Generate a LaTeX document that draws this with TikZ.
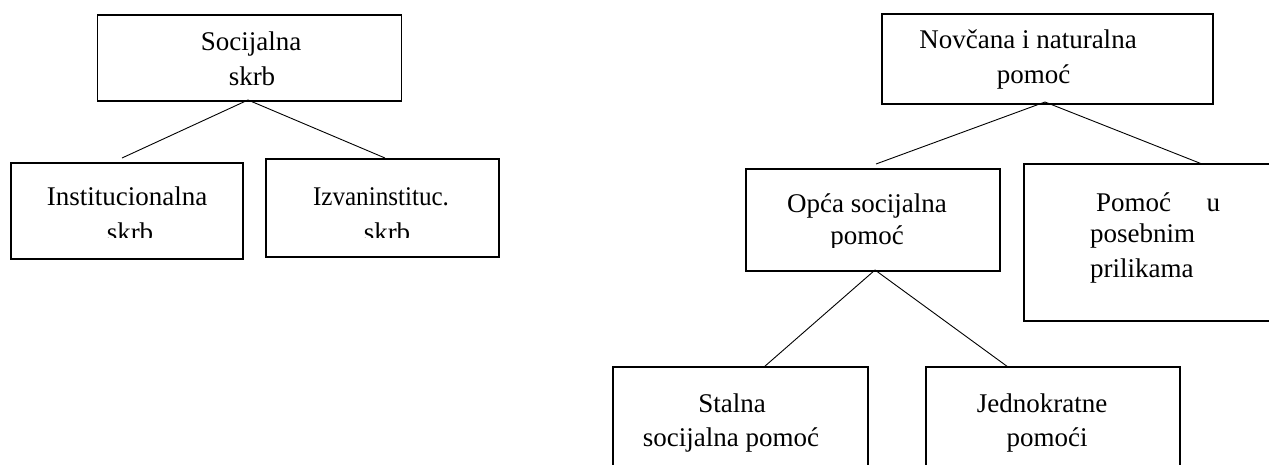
\documentclass[tikz,border=0pt]{standalone}
\usepackage{fontspec}
\setmainfont{Liberation Serif}
\newfontfamily\semicondfont[FakeStretch=0.93]{Liberation Serif}
\tikzset{
  box/.style={draw, line width=1.2pt, inner sep=0pt, outer sep=0pt},
  conn/.style={line width=0.9pt},
  txt/.style={anchor=base, inner sep=0pt, font=\fontsize{27}{34}\selectfont},
}
\begin{document}
\begin{tikzpicture}[x=1pt,y=-1pt]
\useasboundingbox (0,0) rectangle (1269,464);
\clip (0,0) rectangle (1269,464);
\fill[white] (0,0) rectangle (1269,464);

% left tree
\node[box, minimum width=304pt, minimum height=86pt] (b1) at (249.5,58) {};
\node[txt] (t1a) at (251,50) {Socijalna};
\node[txt] (t1b) at (252,85) {skrb};

\node[box, minimum width=232pt, minimum height=96pt] (b2) at (127,211) {};
\begin{scope}
  \clip (11,163) rectangle (243,237);
  \node[txt] (t2a) at (127,205) {Institucionalna};
  \node[txt] (t2b) at (130,241) {skrb};
\end{scope}

\node[box, minimum width=233pt, minimum height=98pt] (b3) at (382.5,208) {};
\begin{scope}
  \clip (266,159) rectangle (499,237);
  \node[txt, font=\fontsize{27}{34}\selectfont\semicondfont] (t3a) at (381,205) {Izvaninstituc.};
  \node[txt] (t3b) at (387,241) {skrb};
\end{scope}

\coordinate (a1) at (248,100);
\coordinate (l1) at (122,158);
\coordinate (r1) at (385,158);
\draw[conn] (a1) -- (l1);
\draw[conn] (a1) -- (r1);

% right tree
\node[box, minimum width=331pt, minimum height=90pt] (b4) at (1047.5,59) {};
\node[txt] (t4a) at (1028,48.5) {Novčana i naturalna};
\node[txt] (t4b) at (1033.5,83) {pomoć};

\node[box, minimum width=254pt, minimum height=102pt] (b5) at (873,220) {};
\begin{scope}
  \clip (746,169) rectangle (1000,247);
  \node[txt] (t5a) at (867,212) {Opća socijalna};
  \node[txt] (t5b) at (867,244) {pomoć};
\end{scope}

\node[box, minimum width=266pt, minimum height=157pt] (b6) at (1157,242.5) {};
\node[txt, anchor=base west] (t6a) at (1096,211) {\makebox[124pt][s]{Pomoć\hfill u}};
\node[txt, anchor=base west] (t6b) at (1090,242) {posebnim};
\node[txt, anchor=base west] (t6c) at (1090,277) {prilikama};

\node[box, minimum width=255pt, minimum height=113pt] (b7) at (740.5,423.5) {};
\node[txt] (t7a) at (732,412) {Stalna};
\node[txt] (t7b) at (731,446) {socijalna pomoć};

\node[box, minimum width=254pt, minimum height=113pt] (b8) at (1053,423.5) {};
\node[txt] (t8a) at (1042,412) {Jednokratne};
\node[txt] (t8b) at (1047,446) {pomoći};

\coordinate (a2) at (1045,102);
\coordinate (l2) at (876,164);
\coordinate (r2) at (1202,164);
\draw[conn] (a2) -- (l2);
\draw[conn] (a2) -- (r2);

\coordinate (a3) at (875,270);
\coordinate (l3) at (764,367);
\coordinate (r3) at (1008,367);
\draw[conn] (a3) -- (l3);
\draw[conn] (a3) -- (r3);
\end{tikzpicture}
\end{document}
